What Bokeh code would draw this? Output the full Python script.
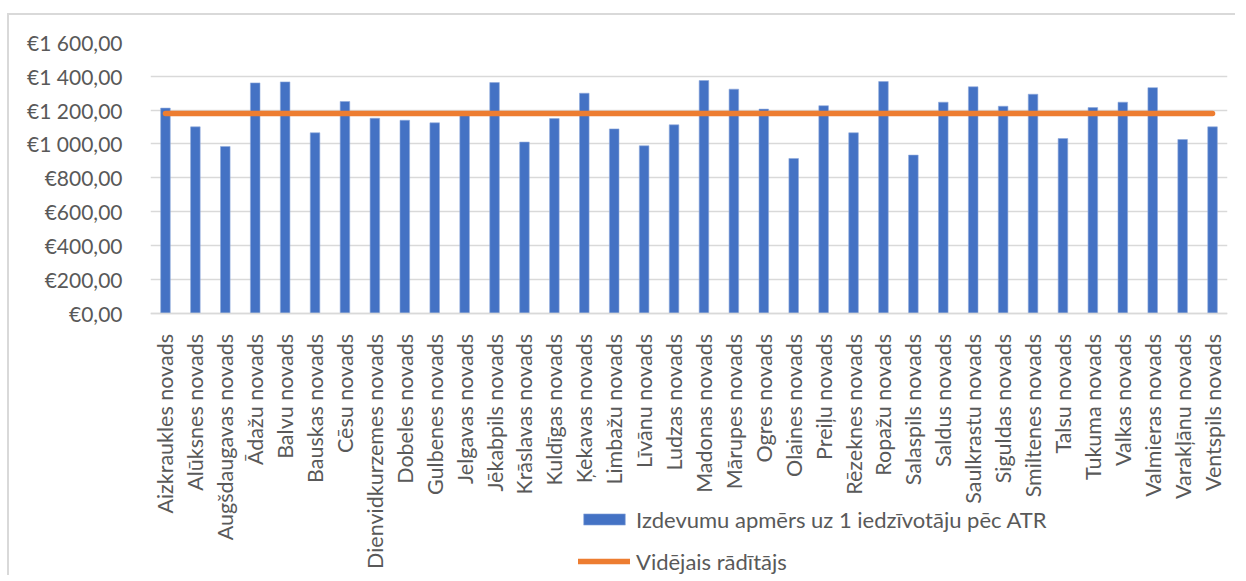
import math
from bokeh.plotting import figure
from bokeh.models import ColumnDataSource, FixedTicker, Legend, LegendItem, Range1d
from bokeh.embed import file_html
from bokeh.resources import INLINE

categories = [
    "Aizkraukles novads", "Alūksnes novads", "Augšdaugavas novads", "Ādažu novads",
    "Balvu novads", "Bauskas novads", "Cēsu novads", "Dienvidkurzemes novads",
    "Dobeles novads", "Gulbenes novads", "Jelgavas novads", "Jēkabpils novads",
    "Krāslavas novads", "Kuldīgas novads", "Ķekavas novads", "Limbažu novads",
    "Līvānu novads", "Ludzas novads", "Madonas novads", "Mārupes novads",
    "Ogres novads", "Olaines novads", "Preiļu novads", "Rēzeknes novads",
    "Ropažu novads", "Salaspils novads", "Saldus novads", "Saulkrastu novads",
    "Siguldas novads", "Smiltenes novads", "Talsu novads", "Tukuma novads",
    "Valkas novads", "Valmieras novads", "Varakļānu novads", "Ventspils novads",
]
expenses = [
    1212, 1101, 985, 1361, 1367, 1066, 1251, 1152,
    1140, 1125, 1175, 1363, 1011, 1150, 1300, 1089,
    989, 1113, 1375, 1324, 1206, 914, 1226, 1066,
    1369, 934, 1247, 1338, 1223, 1294, 1032, 1215,
    1247, 1333, 1026, 1101,
]
average_value = 1180
average = [average_value] * len(categories)

y_ticks = [0, 200, 400, 600, 800, 1000, 1200, 1400, 1600]
y_tick_labels = ["€0,00", "€200,00", "€400,00", "€600,00", "€800,00",
                 "€1 000,00", "€1 200,00", "€1 400,00", "€1 600,00"]

series_bar = "Izdevumu apmērs uz 1 iedzīvotāju pēc ATR"
series_line = "Vidējais rādītājs"

FONT = "Lato"
TEXT = "#595959"
GRID = "#D9D9D9"

# layout (pixels)
W, H = 1228, 562
B_TOP, B_BOTTOM, B_LEFT, B_RIGHT = 27, 0, 141, 10
frame_h = H - B_TOP - B_BOTTOM
value_px = 270.5  # pixels from 0 to 1600
y_min = -(frame_h - value_px) * 1600.0 / value_px

src = ColumnDataSource(dict(cat=categories, val=expenses, avg=average))

p = figure(
    x_range=categories, y_range=Range1d(y_min, 1600),
    width=W, height=H,
    output_backend="svg", toolbar_location=None,
    min_border_left=B_LEFT, min_border_right=B_RIGHT,
    min_border_top=B_TOP, min_border_bottom=B_BOTTOM,
)
p.styles = {"border-left": "2px solid #D9D9D9", "border-top": "2px solid #D9D9D9",
            "margin-top": "13px", "margin-left": "7px"}
p.outline_line_color = None
p.background_fill_color = "white"

bars = p.vbar(x="cat", top="val", width=0.32, source=src,
              fill_color="#4472C4", line_color="#8FAADC", line_width=0.6)
line = p.line(x="cat", y="avg", source=src, line_color="#ED7D31",
              line_width=5.5, line_cap="round")

p.yaxis.ticker = FixedTicker(ticks=y_ticks)
p.yaxis.major_label_overrides = {t: l for t, l in zip(y_ticks, y_tick_labels)}
p.yaxis.axis_line_color = None
p.yaxis.major_tick_line_color = None
p.yaxis.minor_tick_line_color = None
p.yaxis.major_label_standoff = 22
p.yaxis.major_label_text_font = FONT
p.yaxis.major_label_text_font_size = "21px"
p.yaxis.major_label_text_color = TEXT

p.xaxis.fixed_location = 0
p.xaxis.axis_line_color = GRID
p.xaxis.axis_line_width = 1.6
p.xaxis.major_tick_line_color = None
p.xaxis.major_label_orientation = math.pi / 2
p.xaxis.major_label_standoff = 15
p.xaxis.major_label_text_font = FONT
p.xaxis.major_label_text_font_size = "21.5px"
p.xaxis.major_label_text_color = TEXT

p.xgrid.grid_line_color = None
p.ygrid.grid_line_color = GRID
p.ygrid.grid_line_width = 1.6

legend = Legend(
    items=[LegendItem(label=series_bar, renderers=[bars]),
           LegendItem(label=series_line, renderers=[line])],
    location=(428, 2.5),
    orientation="vertical",
    glyph_width=52, glyph_height=14, label_height=14,
    spacing=15, padding=0, margin=0, label_standoff=6,
    border_line_color=None, background_fill_alpha=0,
    label_text_font=FONT, label_text_font_size="22px", label_text_color=TEXT,
)
p.add_layout(legend, "center")

open("out.html", "w").write(file_html(p, INLINE))
